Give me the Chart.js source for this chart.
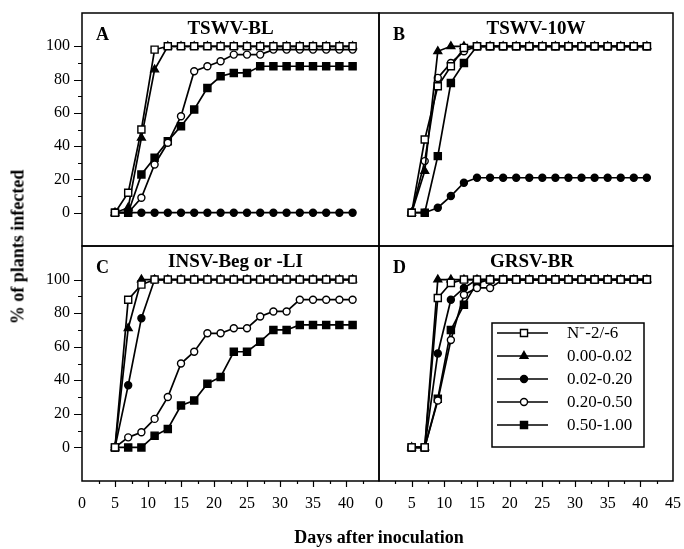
<!DOCTYPE html>
<html>
<head>
<meta charset="utf-8">
<script src="https://cdn.jsdelivr.net/npm/chart.js@4.4.1/dist/chart.umd.min.js"></script>
<style>
body { margin: 0; background: #fff; }
#wrap { position: relative; width: 684px; height: 549px; background: #fff; }
#wrap canvas { position: absolute; left: 0; top: 0; }
.axt { position: absolute; font-family: "Liberation Serif", "Times New Roman", serif; font-weight: bold; font-size: 18px; color: #000; white-space: nowrap; }
</style>
</head>
<body>
<div id="wrap">
  <canvas id="cA" width="684" height="549"></canvas>
  <canvas id="cB" width="684" height="549"></canvas>
  <canvas id="cC" width="684" height="549"></canvas>
  <canvas id="cD" width="684" height="549"></canvas>
  <div class="axt" style="left:18px;top:247px;transform:translate(-50%,-50%) rotate(-90deg);">% of plants infected</div>
  <div class="axt" style="left:379px;top:537px;transform:translate(-50%,-50%);">Days after inoculation</div>
</div>
<script>
// days after inoculation (same for every series)
const days = [5, 7, 9, 11, 13, 15, 17, 19, 21, 23, 25, 27, 29, 31, 33, 35, 37, 39, 41];
const seriesNames = ['N\u207B-2/-6', '0.00-0.02', '0.02-0.20', '0.20-0.50', '0.50-1.00'];
const xTicks = [0, 5, 10, 15, 20, 25, 30, 35, 40, 45];
const yTicks = [0, 20, 40, 60, 80, 100];

// A  TSWV-BL
const aN  = [0, 12, 50, 98, 100, 100, 100, 100, 100, 100, 100, 100, 100, 100, 100, 100, 100, 100, 100];
const aT  = [0, 3, 45, 86, 100, 100, 100, 100, 100, 100, 100, 100, 100, 100, 100, 100, 100, 100, 100];
const aFC = [0, 0, 0, 0, 0, 0, 0, 0, 0, 0, 0, 0, 0, 0, 0, 0, 0, 0, 0];
const aOC = [0, 0, 9, 29, 42, 58, 85, 88, 91, 95, 95, 95, 98, 98, 98, 98, 98, 98, 98];
const aFS = [0, 0, 23, 33, 43, 52, 62, 75, 82, 84, 84, 88, 88, 88, 88, 88, 88, 88, 88];

// B  TSWV-10W
const bN  = [0, 44, 76, 88, 99, 100, 100, 100, 100, 100, 100, 100, 100, 100, 100, 100, 100, 100, 100];
const bT  = [0, 25, 97, 100, 100, 100, 100, 100, 100, 100, 100, 100, 100, 100, 100, 100, 100, 100, 100];
const bFC = [0, 0, 3, 10, 18, 21, 21, 21, 21, 21, 21, 21, 21, 21, 21, 21, 21, 21, 21];
const bOC = [0, 31, 81, 90, 97, 100, 100, 100, 100, 100, 100, 100, 100, 100, 100, 100, 100, 100, 100];
const bFS = [0, 0, 34, 78, 90, 100, 100, 100, 100, 100, 100, 100, 100, 100, 100, 100, 100, 100, 100];

// C  INSV-Beg or -LI
const cN  = [0, 88, 97, 100, 100, 100, 100, 100, 100, 100, 100, 100, 100, 100, 100, 100, 100, 100, 100];
const cT  = [0, 71, 100, 100, 100, 100, 100, 100, 100, 100, 100, 100, 100, 100, 100, 100, 100, 100, 100];
const cFC = [0, 37, 77, 100, 100, 100, 100, 100, 100, 100, 100, 100, 100, 100, 100, 100, 100, 100, 100];
const cOC = [0, 6, 9, 17, 30, 50, 57, 68, 68, 71, 71, 78, 81, 81, 88, 88, 88, 88, 88];
const cFS = [0, 0, 0, 7, 11, 25, 28, 38, 42, 57, 57, 63, 70, 70, 73, 73, 73, 73, 73];

// D  GRSV-BR
const dN  = [0, 0, 89, 98, 100, 100, 100, 100, 100, 100, 100, 100, 100, 100, 100, 100, 100, 100, 100];
const dT  = [0, 0, 100, 100, 100, 100, 100, 100, 100, 100, 100, 100, 100, 100, 100, 100, 100, 100, 100];
const dFC = [0, 0, 56, 88, 95, 100, 100, 100, 100, 100, 100, 100, 100, 100, 100, 100, 100, 100, 100];
const dOC = [0, 0, 28, 64, 91, 95, 95, 100, 100, 100, 100, 100, 100, 100, 100, 100, 100, 100, 100];
const dFS = [0, 0, 29, 70, 85, 98, 100, 100, 100, 100, 100, 100, 100, 100, 100, 100, 100, 100, 100];

const SERIF = '"Liberation Serif", "Times New Roman", serif';

const markers = [
  { pointStyle: 'rect', pointRadius: 5, pointBackgroundColor: '#fff' },
  { pointStyle: 'triangle', pointRadius: 4.5, pointBackgroundColor: '#000' },
  { pointStyle: 'circle', pointRadius: 3.5, pointBackgroundColor: '#000' },
  { pointStyle: 'circle', pointRadius: 3.5, pointBackgroundColor: '#fff' },
  { pointStyle: 'rect', pointRadius: 5, pointBackgroundColor: '#000' }
];

function dataset(vals, i) {
  return Object.assign({
    label: seriesNames[i],
    data: days.map((d, j) => ({ x: d, y: vals[j] })),
    borderColor: '#000',
    borderWidth: 1.7,
    pointBorderColor: '#000',
    pointBorderWidth: 1.4,
    tension: 0,
    fill: false
  }, markers[i]);
}

function drawMarker(ctx, m, x, y) {
  ctx.save();
  ctx.fillStyle = m.pointBackgroundColor;
  ctx.strokeStyle = '#000';
  ctx.lineWidth = 1.4;
  ctx.beginPath();
  if (m.pointStyle === 'rect') {
    const s = m.pointRadius * Math.SQRT1_2;
    ctx.rect(x - s, y - s, 2 * s, 2 * s);
  } else if (m.pointStyle === 'triangle') {
    const r = m.pointRadius;
    ctx.moveTo(x, y - r);
    ctx.lineTo(x + r * 0.866, y + r * 0.5);
    ctx.lineTo(x - r * 0.866, y + r * 0.5);
    ctx.closePath();
  } else {
    ctx.arc(x, y, m.pointRadius, 0, Math.PI * 2);
  }
  ctx.fill();
  ctx.stroke();
  ctx.restore();
}

// frame, tick marks, panel title/letter, legend
const deco = {
  id: 'deco',
  afterDraw(chart, args, o) {
    const ctx = chart.ctx;
    const a = chart.chartArea;
    const xs = chart.scales.x, ys = chart.scales.y;
    ctx.save();
    ctx.strokeStyle = '#000';
    ctx.lineWidth = 1.5;
    ctx.strokeRect(a.left, a.top, a.right - a.left, a.bottom - a.top);
    ctx.lineWidth = 1.2;
    ctx.beginPath();
    if (o.yLabels) {
      for (let v = 0; v <= 100; v += 10) {
        const py = Math.round(ys.getPixelForValue(v)) + 0.5;
        ctx.moveTo(a.left - (v % 20 === 0 ? 8 : 4), py);
        ctx.lineTo(a.left, py);
      }
    }
    if (o.xLabels) {
      for (let d = 2.5; d < 45; d += 2.5) {
        const px = Math.round(xs.getPixelForValue(d)) + 0.5;
        ctx.moveTo(px, a.bottom);
        ctx.lineTo(px, a.bottom + (d % 5 === 0 ? 6 : 3));
      }
    }
    ctx.stroke();

    ctx.fillStyle = '#000';
    ctx.textBaseline = 'middle';
    ctx.font = 'bold 19px ' + SERIF;
    ctx.textAlign = 'center';
    ctx.fillText(o.title, (a.left + a.right) / 2 + o.titleDx, a.top + 16);
    ctx.font = 'bold 18px ' + SERIF;
    ctx.textAlign = 'left';
    ctx.fillText(o.letter, a.left + 14, a.top + 22);

    if (o.legend) {
      const lx = a.left + 113, ly = a.top + 77;
      ctx.lineWidth = 1.5;
      ctx.strokeRect(lx, ly, 152, 124);
      ctx.font = '17px ' + SERIF;
      ctx.textAlign = 'left';
      seriesNames.forEach((name, i) => {
        const yy = ly + 10 + i * 23;
        ctx.beginPath();
        ctx.lineWidth = 1.5;
        ctx.moveTo(lx + 5, yy);
        ctx.lineTo(lx + 56, yy);
        ctx.stroke();
        drawMarker(ctx, markers[i], lx + 32, yy);
        ctx.fillText(name, lx + 75, yy + 1);
      });
    }
    ctx.restore();
  }
};

function noPad(s) {
  s.paddingTop = 0; s.paddingBottom = 0; s.paddingLeft = 0; s.paddingRight = 0;
}

function panel(id, box, series, o) {
  // box = [left, top, right, bottom] of the plot frame in page pixels
  const yW = o.yLabels ? box[0] : 0;
  const xH = o.xLabels ? 549 - box[3] : 0;
  return new Chart(document.getElementById(id), {
    type: 'line',
    data: { datasets: series.map(dataset) },
    options: {
      responsive: false,
      animation: false,
      layout: { padding: { left: box[0] - yW, top: box[1], right: 684 - box[2], bottom: 549 - box[3] - xH } },
      plugins: { legend: { display: false }, tooltip: { enabled: false }, deco: o },
      scales: {
        x: {
          type: 'linear', min: 0, max: 45,
          afterFit: s => { s.height = xH; noPad(s); },
          afterBuildTicks: s => { s.ticks = xTicks.map(v => ({ value: v })); },
          grid: { display: false, drawTicks: false },
          border: { display: false },
          ticks: {
            display: o.xLabels, autoSkip: false, maxRotation: 0, padding: 13,
            color: '#000', font: { family: SERIF, size: 16 },
            callback: v => (v === 45 && !o.show45) ? '' : String(v)
          }
        },
        y: {
          type: 'linear', min: -20, max: 120,
          afterFit: s => { s.width = yW; noPad(s); },
          afterBuildTicks: s => { s.ticks = yTicks.map(v => ({ value: v })); },
          grid: { display: false, drawTicks: false },
          border: { display: false },
          ticks: {
            display: o.yLabels, autoSkip: false, padding: 12,
            color: '#000', font: { family: SERIF, size: 16 }
          }
        }
      }
    },
    plugins: [deco]
  });
}

panel('cA', [82, 13, 379, 246], [aN, aT, aFC, aOC, aFS],
  { title: 'TSWV-BL', letter: 'A', titleDx: 0, yLabels: true, xLabels: false });
panel('cB', [379, 13, 673, 246], [bN, bT, bFC, bOC, bFS],
  { title: 'TSWV-10W', letter: 'B', titleDx: 10, yLabels: false, xLabels: false });
panel('cC', [82, 246, 379, 481], [cN, cT, cFC, cOC, cFS],
  { title: 'INSV-Beg or -LI', letter: 'C', titleDx: 5, yLabels: true, xLabels: true, show45: false });
panel('cD', [379, 246, 673, 481], [dN, dT, dFC, dOC, dFS],
  { title: 'GRSV-BR', letter: 'D', titleDx: 6, yLabels: false, xLabels: true, show45: true, legend: true });
</script>
</body>
</html>
